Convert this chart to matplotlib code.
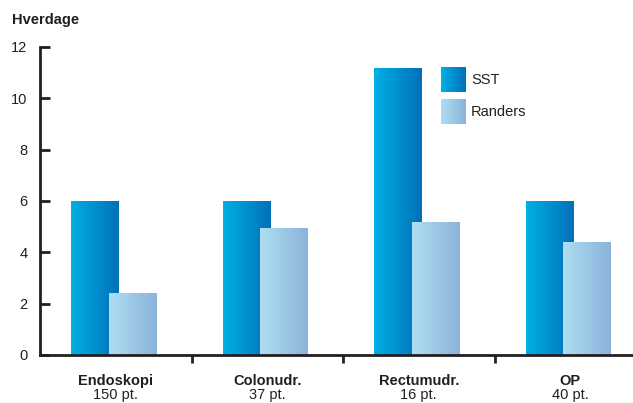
import numpy as np
import matplotlib
matplotlib.use("Agg")
import matplotlib.pyplot as plt
from matplotlib.colors import LinearSegmentedColormap

categories = ["Endoskopi", "Colonudr.", "Rectumudr.", "OP"]
patients = ["150 pt.", "37 pt.", "16 pt.", "40 pt."]
sst = [6.0, 6.0, 11.2, 6.0]
randers = [2.4, 4.95, 5.2, 4.4]

plt.rcParams['font.family'] = ['Liberation Sans', 'DejaVu Sans']
ink = '#231f20'

sst_cmap = LinearSegmentedColormap.from_list('sst', ['#00b0e6', '#0070b8'])
randers_cmap = LinearSegmentedColormap.from_list('randers', ['#afdef2', '#8ab3da'])
grad = np.linspace(0, 1, 256).reshape(1, -1)

fig = plt.figure(figsize=(6.33, 4.03), dpi=100)
ax = fig.add_axes([40 / 633, 48 / 403, 593 / 633, 308 / 403])

x = np.arange(len(categories))
width = 0.315
sst_bars = ax.bar(x + 0.205, sst, width, align='edge', color='none')
randers_bars = ax.bar(x + 0.455, randers, width, align='edge', color='none')


def fill_gradient(bars, cmap):
    for b in bars:
        x0, y0 = b.get_x(), b.get_y()
        im = ax.imshow(grad, cmap=cmap, aspect='auto', interpolation='bicubic',
                       extent=[x0, x0 + b.get_width(), y0, y0 + b.get_height()],
                       zorder=2)
        im.set_clip_path(b)


fill_gradient(sst_bars, sst_cmap)
fill_gradient(randers_bars, randers_cmap)

# legend swatches in axes coordinates
for (y0, y1), cmap, label in [((0.854, 0.932), sst_cmap, 'SST'),
                              ((0.750, 0.828), randers_cmap, 'Randers')]:
    ax.imshow(grad, cmap=cmap, aspect='auto', extent=[0.676, 0.717, y0, y1],
              transform=ax.transAxes, zorder=3)
    ax.text(0.727, (y0 + y1) / 2, label, transform=ax.transAxes,
            ha='left', va='center', fontsize=10.5, color=ink)

ax.set_xlim(0, 593 / 151.5)
ax.set_ylim(0, 12)

for s in ['top', 'right']:
    ax.spines[s].set_visible(False)
for s in ['left', 'bottom']:
    ax.spines[s].set_linewidth(2)
    ax.spines[s].set_color(ink)

ax.set_yticks(range(0, 13, 2))
ax.tick_params(axis='y', direction='in', length=7, width=2, pad=9,
               labelsize=10.5, colors=ink)
ax.set_xticks([1, 2, 3])
ax.set_xticklabels([])
ax.tick_params(axis='x', direction='out', length=6, width=2, colors=ink)

trans = ax.get_xaxis_transform()
for i, (cat, n) in enumerate(zip(categories, patients)):
    ax.text(i + 0.5, -0.084, cat, transform=trans, ha='center', va='center',
            fontsize=10.5, fontweight='bold', color=ink)
    fig.text(ax.transData.transform((i + 0.5, 0))[0] / 633, 1 / 403, n,
             ha='center', va='bottom', fontsize=10.5, color=ink)

fig.text(12 / 633, 1 - 20 / 403, 'Hverdage', ha='left', va='center',
         fontsize=10.5, fontweight='bold', color=ink)

fig.savefig('out.png', dpi=100)
